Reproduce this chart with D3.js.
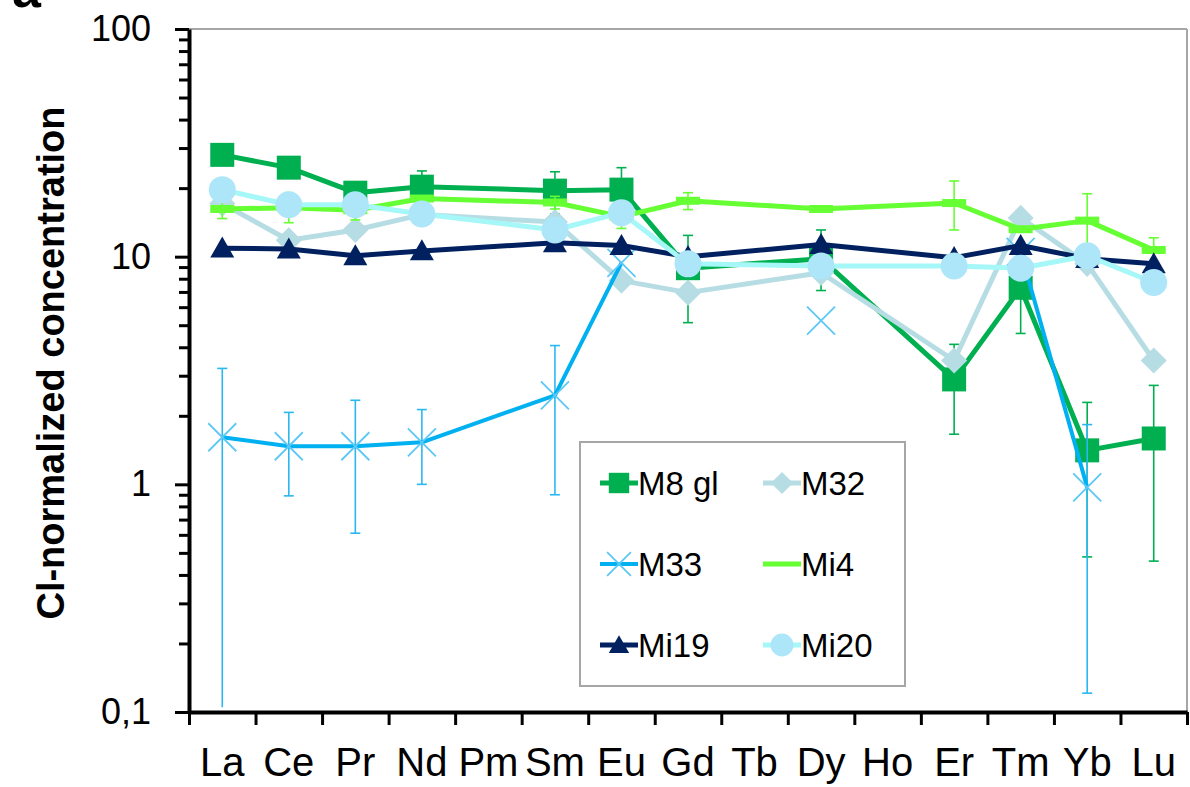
<!DOCTYPE html>
<html>
<head>
<meta charset="utf-8">
<script src="https://cdn.jsdelivr.net/npm/d3@7"></script>
<style>
  html, body { margin: 0; padding: 0; background: #fff; }
  svg { display: block; font-family: "Liberation Sans", Arial, sans-serif; }
</style>
</head>
<body>
<svg id="chart" width="1190" height="787"></svg>
<script>
// Rare earth elements along the x axis (Pm, Tb, Ho not analysed)
const elements = ["La","Ce","Pr","Nd","Pm","Sm","Eu","Gd","Tb","Dy","Ho","Er","Tm","Yb","Lu"];
const notAnalysed = ["Pm","Tb","Ho"];

// CI-normalized concentrations; null = no value
const m8gl   = [28.0, 24.6, 19.1, 20.3, null, 19.5, 19.7, 8.9, null, 9.8, null, 2.89, 7.3, 1.41, 1.59];
const m8glLo = [null, null, 16.9, 16.8, null, 15.4, 14.8, 5.13, null, 7.1, null, 1.66, 4.6, 0.48, 0.46];
const m8glHi = [null, null, 21.3, 23.8, null, 23.6, 24.6, 12.4, null, 13.1, null, 4.12, 10.0, 2.29, 2.72];

const m32    = [17.1, 11.8, 13.1, 15.3, null, 14.2, 7.85, 6.95, null, 8.5, null, 3.5, 14.8, 9.3, 3.5];

const m33    = [1.61, 1.47, 1.47, 1.53, null, 2.46, 9.4, null, null, 5.24, null, null, 10.5, 0.97, null];
const m33Lo  = [0.105, 0.89, 0.61, 1.0, null, 0.9, null, null, null, null, null, null, null, 0.121, null];
const m33Hi  = [3.23, 2.07, 2.34, 2.13, null, 4.07, null, null, null, null, null, null, null, 1.83, null];

const mi4    = [16.2, 16.4, 16.0, 18.0, null, 17.3, 15.0, 17.6, null, 16.2, null, 17.2, 13.2, 14.4, 10.7];
const mi4Lo  = [14.7, 14.1, 14.5, null, null, 16.2, 13.3, 16.1, null, null, null, 13.1, null, 10.2, 9.3];
const mi4Hi  = [17.7, 19.1, 17.5, null, null, 18.4, 16.3, 19.1, null, null, null, 21.5, null, 18.9, 12.1];

const mi19   = [10.9, 10.8, 10.1, 10.6, null, 11.5, 11.2, 10.0, null, 11.3, null, 9.9, 11.2, 9.8, 9.3];
const mi20   = [19.7, 16.9, 16.9, 15.4, null, 13.1, 15.6, 9.3, null, 9.1, null, 9.1, 8.9, 10.1, 7.7];

const yMajorTicks = [0.1, 1, 10, 100];

// Series drawing order and appearance
const series = [
  { name: "M8 gl", values: m8gl, lo: m8glLo, hi: m8glHi, line: "#00b050", lineWidth: 5, marker: "square",   fill: "#00b050", err: "#00b050" },
  { name: "M32",   values: m32,  lo: null,   hi: null,   line: "#b7dde4", lineWidth: 5, marker: "diamond",  fill: "#b7dde4" },
  { name: "M33",   values: m33,  lo: m33Lo,  hi: m33Hi,  line: "#00b0f0", lineWidth: 4, marker: "cross",    fill: "#5cc8f5", err: "#2ab8f0" },
  { name: "Mi4",   values: mi4,  lo: mi4Lo,  hi: mi4Hi,  line: "#66ff33", lineWidth: 5, marker: "dash",     fill: "#66ff33", err: "#66ff33" },
  { name: "Mi19",  values: mi19, lo: null,   hi: null,   line: "#002060", lineWidth: 5, marker: "triangle", fill: "#002060" },
  { name: "Mi20",  values: mi20, lo: null,   hi: null,   line: "#a6f7f7", lineWidth: 5, marker: "circle",   fill: "#ace6f8" }
];

const svg = d3.select("#chart");
const plot = { left: 189, right: 1187, top: 29, bottom: 712 };

const x = d3.scaleBand().domain(elements).range([plot.left, plot.right]);
const y = d3.scaleLog().domain([0.1, 100]).range([plot.bottom, plot.top]);
const edge = d3.scaleLinear().domain([0, elements.length]).range([plot.left, plot.right]);

const commaFmt = d3.formatLocale({ decimal: ",", thousands: ".", grouping: [3], currency: ["", ""] }).format("~g");

// Panel letter
svg.append("text").attr("x", 12).attr("y", 7).attr("font-size", 52).attr("font-weight", "bold").text("a");

// Light frame on top and right
svg.append("line").attr("x1", plot.left).attr("x2", plot.right).attr("y1", plot.top).attr("y2", plot.top)
  .attr("stroke", "#a6a6a6").attr("stroke-width", 2);
svg.append("line").attr("x1", plot.right).attr("x2", plot.right).attr("y1", plot.top).attr("y2", plot.bottom)
  .attr("stroke", "#a6a6a6").attr("stroke-width", 2);

// Y axis: minor ticks
const minor = [];
[0.1, 1, 10].forEach(d => { for (let k = 2; k <= 9; k++) minor.push(+(d * k).toPrecision(3)); });
svg.append("g").attr("transform", `translate(${plot.left},0)`)
  .call(d3.axisLeft(y).tickValues(minor).tickSize(10).tickFormat(""))
  .call(g => g.select(".domain").remove())
  .call(g => g.selectAll("line").attr("stroke", "#000").attr("stroke-width", 3));

// Y axis: major ticks and labels
svg.append("g").attr("transform", `translate(${plot.left},0)`)
  .call(d3.axisLeft(y).tickValues(yMajorTicks).tickSize(14).tickSizeOuter(0).tickPadding(24).tickFormat(commaFmt))
  .call(g => g.select(".domain").attr("stroke", "#000").attr("stroke-width", 4))
  .call(g => g.selectAll("line").attr("stroke", "#000").attr("stroke-width", 3))
  .call(g => g.selectAll("text").attr("font-size", 36).attr("fill", "#000")
               .attr("font-family", "'Liberation Sans', Arial, sans-serif"));

// X axis: tick marks at category boundaries
svg.append("g").attr("transform", `translate(0,${plot.bottom})`)
  .call(d3.axisBottom(edge).tickValues(d3.range(elements.length + 1)).tickSize(13).tickSizeOuter(0).tickFormat(""))
  .call(g => g.select(".domain").attr("stroke", "#000").attr("stroke-width", 4))
  .call(g => g.selectAll("line").attr("stroke", "#000").attr("stroke-width", 3));

// X axis: element labels
svg.append("g").attr("transform", `translate(0,${plot.bottom})`)
  .call(d3.axisBottom(x).tickSize(0).tickPadding(36))
  .call(g => g.select(".domain").remove())
  .call(g => g.selectAll("text").attr("font-size", 40).attr("fill", "#000")
               .attr("font-family", "'Liberation Sans', Arial, sans-serif"));

// Y axis title
svg.append("text")
  .attr("transform", "translate(64,363) rotate(-90)")
  .attr("text-anchor", "middle")
  .attr("font-size", 38).attr("font-weight", "bold")
  .text("Cl-normalized concentration");

// Marker shapes
function drawMarker(sel, s, scale) {
  const k = scale || 1;
  if (s.marker === "square") {
    sel.append("rect").attr("x", -12 * k).attr("y", -12 * k).attr("width", 24 * k).attr("height", 24 * k).attr("fill", s.fill);
  } else if (s.marker === "diamond") {
    sel.append("path").attr("d", d3.symbol(d3.symbolSquare, 340 * k * k)()).attr("transform", "rotate(45)").attr("fill", s.fill);
  } else if (s.marker === "cross") {
    const r = 14 * k;
    sel.append("path").attr("d", `M${-r},${-r}L${r},${r}M${-r},${r}L${r},${-r}`)
      .attr("stroke", s.fill).attr("stroke-width", 1.8).attr("fill", "none");
  } else if (s.marker === "dash") {
    sel.append("rect").attr("x", -12 * k).attr("y", -4).attr("width", 24 * k).attr("height", 8).attr("fill", s.fill);
  } else if (s.marker === "triangle") {
    const w = 12 * k, h = 21 * k;
    sel.append("path").attr("d", `M0,${-h * 0.55}L${w},${h * 0.45}L${-w},${h * 0.45}Z`).attr("fill", s.fill);
  } else if (s.marker === "circle") {
    sel.append("circle").attr("r", 13.5 * k).attr("fill", s.fill);
  }
}

const lineGen = d3.line()
  .defined(d => d.v != null)
  .x(d => x(d.el) + x.bandwidth() / 2)
  .y(d => y(d.v));

const layer = svg.append("g");
series.forEach(s => {
  const g = layer.append("g");
  const pts = elements.map((el, i) => ({
    el, v: s.values[i],
    lo: s.lo ? s.lo[i] : null, hi: s.hi ? s.hi[i] : null
  })).filter(d => !notAnalysed.includes(d.el));

  // error bars
  const cap = 5;
  pts.filter(d => d.lo != null && d.hi != null).forEach(d => {
    const cx = x(d.el) + x.bandwidth() / 2;
    g.append("line").attr("x1", cx).attr("x2", cx).attr("y1", y(d.lo)).attr("y2", y(d.hi))
      .attr("stroke", s.err).attr("stroke-width", 1.6);
    [d.lo, d.hi].forEach(v => {
      if (v <= 0.11) return;
      g.append("line").attr("x1", cx - cap).attr("x2", cx + cap).attr("y1", y(v)).attr("y2", y(v))
        .attr("stroke", s.err).attr("stroke-width", 1.6);
    });
  });

  g.append("path").datum(pts).attr("d", lineGen)
    .attr("fill", "none").attr("stroke", s.line).attr("stroke-width", s.lineWidth)
    .attr("stroke-linejoin", "round");

  pts.filter(d => d.v != null).forEach(d => {
    const m = g.append("g").attr("transform", `translate(${x(d.el) + x.bandwidth() / 2},${y(d.v)})`);
    drawMarker(m, s);
  });
});

// Legend
const legend = svg.append("g");
legend.append("rect").attr("x", 580).attr("y", 442).attr("width", 325).attr("height", 244)
  .attr("fill", "#fff").attr("stroke", "#a6a6a6").attr("stroke-width", 2);
series.forEach((s, i) => {
  const col = i % 2, row = Math.floor(i / 2);
  const lx = 600 + col * 163, ly = 483 + row * 81;
  const item = legend.append("g").attr("transform", `translate(${lx},${ly})`);
  item.append("line").attr("x1", 0).attr("x2", 38).attr("stroke", s.line).attr("stroke-width", s.lineWidth);
  if (s.marker !== "dash") drawMarker(item.append("g").attr("transform", "translate(19,0)"), s, 0.85);
  item.append("text").attr("x", 38).attr("y", 0).attr("dy", "0.36em")
    .attr("font-size", 33).attr("fill", "#000").text(s.name);
});
</script>
</body>
</html>
